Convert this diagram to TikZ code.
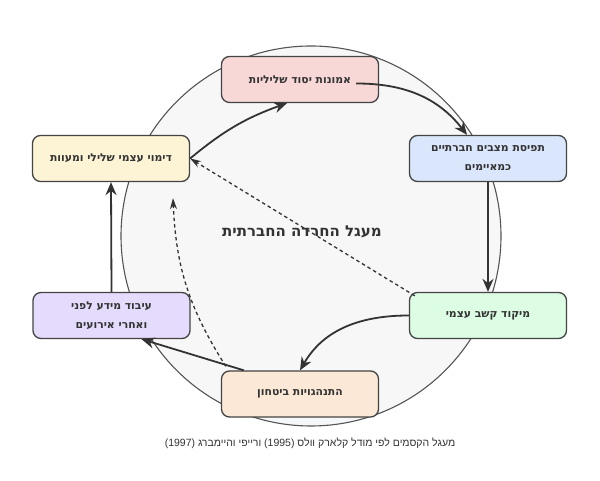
\documentclass[tikz,border=0pt]{standalone}
\usepackage{fontspec}
\newfontfamily\hebfont[Script=Hebrew]{Liberation Sans}
\newfontfamily\hebbold[Script=Hebrew]{DejaVu Sans}
\TeXXeTstate=1
\usetikzlibrary{arrows.meta,calc}
\definecolor{CycleInk}{HTML}{333333}
\definecolor{StageLine}{HTML}{444444}
\definecolor{RingLine}{HTML}{555555}
\definecolor{RingFill}{HTML}{F7F7F7}
\definecolor{BeliefFill}{HTML}{F8D7D7}
\definecolor{PerceptFill}{HTML}{DAE6FC}
\definecolor{FocusFill}{HTML}{DCFCE3}
\definecolor{SafetyFill}{HTML}{FCE8D6}
\definecolor{ProcessFill}{HTML}{E5DBFC}
\definecolor{ImageFill}{HTML}{FDF4D6}
\newcommand{\hebline}[1]{\beginR #1\endR}

\begin{document}
\begin{tikzpicture}[x=1pt,y=1pt,
    stage/.style={draw=StageLine, line width=1.3pt, rounded corners=8pt,
      minimum width=157pt, minimum height=46pt, inner sep=0pt, align=center,
      text=CycleInk, font=\hebbold\bfseries\fontsize{10.8}{19}\selectfont},
    flow/.style={-{Stealth[length=13pt,width=11pt]}, line width=1.8pt, draw=CycleInk},
    hint/.style={-{Stealth[length=11pt,width=7pt]}, line width=1.3pt, draw=CycleInk,
      dash pattern=on 3.5pt off 3pt}]
  \useasboundingbox[fill=white] (0,0) rectangle (600,481);

  % background ring
  \filldraw[fill=RingFill, draw=RingLine, line width=1.1pt] (311,245) circle (190);
  \node[text=CycleInk, font=\hebbold\bfseries\fontsize{15}{18}\selectfont] (title) at (302,249)
    {\hebline{מעגל החרדה החברתית}};

  % stages of the cycle
  \node[stage, fill=BeliefFill] (bel) at (300,401.5) {\hebline{אמונות יסוד שליליות}};
  \node[stage, fill=PerceptFill] (per) at (488,322.5)
    {\hebline{תפיסת מצבים חברתיים}\\\hebline{כמאיימים}};
  \node[stage, fill=FocusFill] (foc) at (488,165.5) {\hebline{מיקוד קשב עצמי}};
  \node[stage, fill=SafetyFill] (beh) at (300,87) {\hebline{התנהגויות ביטחון}};
  \node[stage, fill=ProcessFill] (proc) at (111.5,165.5)
    {\hebline{עיבוד מידע לפני}\\\hebline{ואחרי אירועים}};
  \node[stage, fill=ImageFill] (self) at (111,322.5) {\hebline{דימוי עצמי שלילי ומעוות}};

  % solid arrows
  \draw[flow] ([xshift=-23pt,yshift=-4pt]bel.east) to[out=0,in=128] ([xshift=-21pt]per.north);
  \draw[flow] (per.south) -- (foc.north);
  \draw[flow] (foc.west) to[out=180,in=60] (beh.north);
  \draw[flow] ([xshift=23pt]beh.north west) -- ([xshift=30pt]proc.south);
  \draw[flow] (proc.north) -- (self.south);
  \draw[flow] (self.east) to[bend left=10] ([xshift=-13pt]bel.south);

  % dashed arrows
  \coordinate (gap) at ([xshift=62pt,yshift=-16pt]self.south);
  \draw[hint] ([xshift=6pt,yshift=-4pt]foc.north west) -- (self.east);
  \draw[hint] ([xshift=5pt,yshift=4pt]beh.north west) to[bend left=15] (gap);

  \node[text=CycleInk, font=\hebfont\fontsize{10.5}{12}\selectfont] (note) at (310,38)
    {\hebline{מעגל הקסמים לפי מודל קלארק וולס \beginL(1995)\endL{} ורייפי והיימברג \beginL(1997)\endL}};
\end{tikzpicture}
\end{document}
